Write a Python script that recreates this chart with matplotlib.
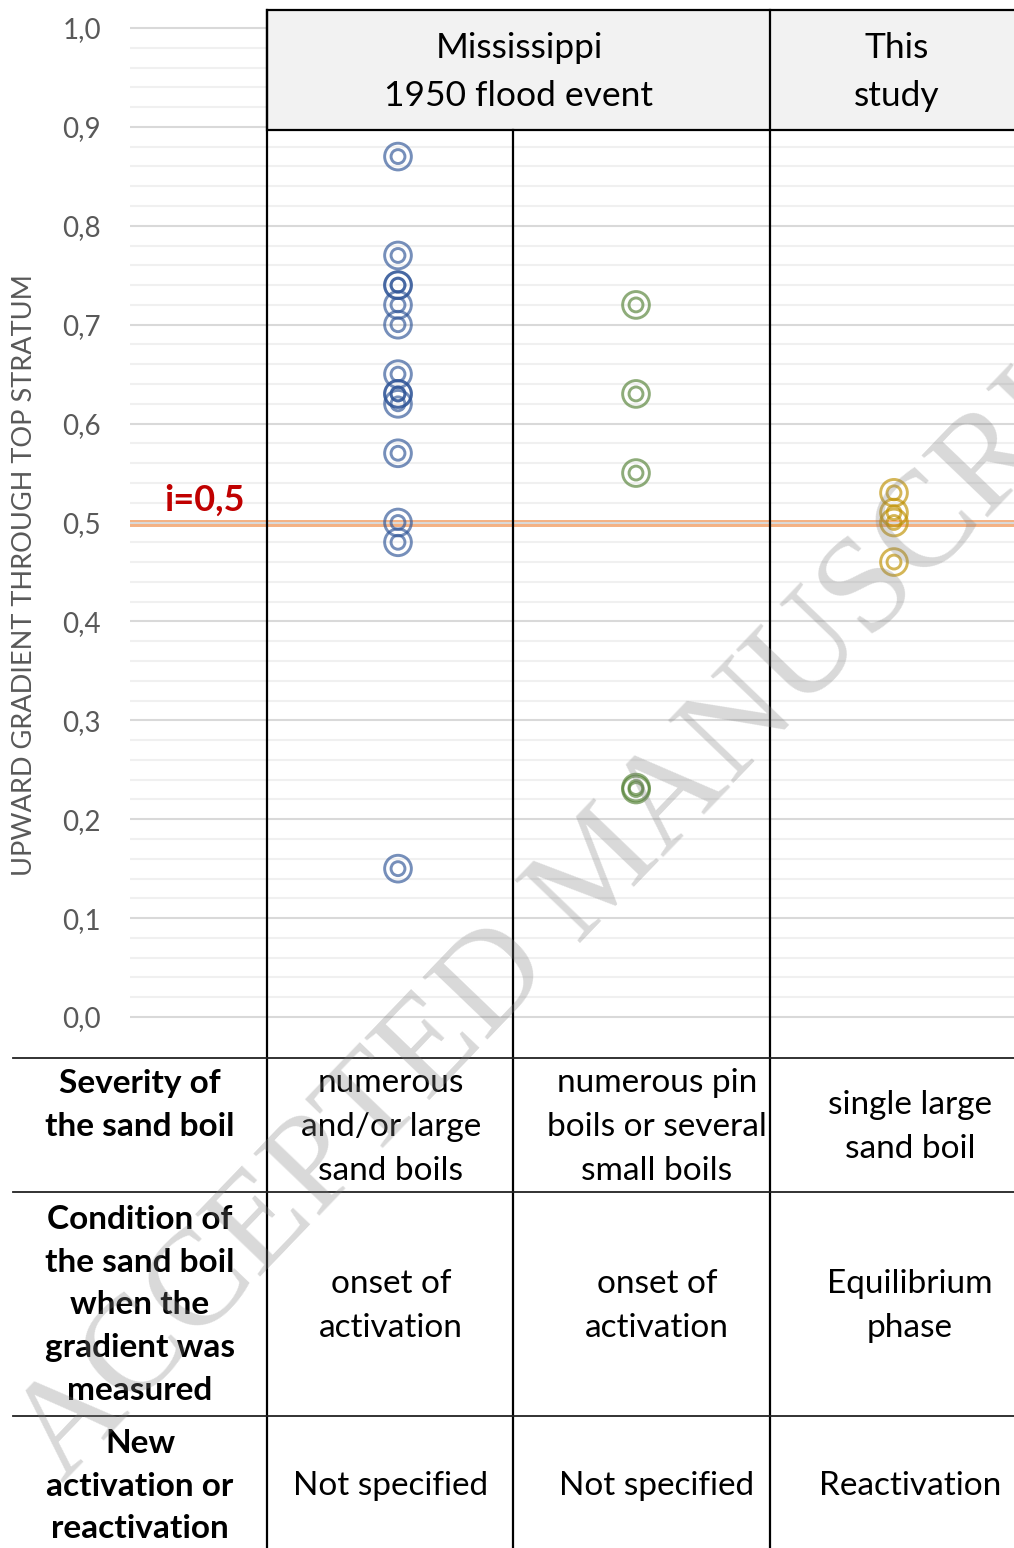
import numpy as np
import matplotlib
matplotlib.use("Agg")
import matplotlib.pyplot as plt
from matplotlib.patches import Rectangle

plt.rcParams['font.family'] = ['Lato', 'DejaVu Sans']

# ---------------- data ----------------
mississippi_numerous = [0.87, 0.77, 0.74, 0.74, 0.72, 0.70, 0.65, 0.63, 0.63,
                        0.62, 0.57, 0.50, 0.48, 0.15]
mississippi_pin = [0.72, 0.63, 0.55, 0.23, 0.232]
this_study = [0.53, 0.51, 0.50, 0.46]
threshold = 0.5
threshold_label = "i=0,5"
y_label = "UPWARD GRADIENT THROUGH TOP STRATUM"
y_ticks = [0.0, 0.1, 0.2, 0.3, 0.4, 0.5, 0.6, 0.7, 0.8, 0.9, 1.0]
y_tick_labels = ["0,0", "0,1", "0,2", "0,3", "0,4", "0,5", "0,6", "0,7", "0,8", "0,9", "1,0"]
header_groups = ["Mississippi\n1950 flood event", "This\nstudy"]
row_labels = ["Severity of\nthe sand boil",
              "Condition of\nthe sand boil\nwhen the\ngradient was\nmeasured",
              "New\nactivation or\nreactivation"]
table_cells = [
    ["numerous\nand/or large\nsand boils", "numerous pin\nboils or several\nsmall boils", "single large\nsand boil"],
    ["onset of\nactivation", "onset of\nactivation", "Equilibrium\nphase"],
    ["Not specified", "Not specified", "Reactivation"],
]
watermark = "ACCEPTED MANUSCRIPT"

series = [mississippi_numerous, mississippi_pin, this_study]
colors = ['#2f5597', '#548235', '#bf9000']

# ---------------- layout (pixels) ----------------
W, H = 1014, 1548
fig = plt.figure(figsize=(W / 100, H / 100), dpi=100, facecolor='white')

plot_left, plot_right = 130, 1014
plot_top, plot_bottom = 10, 1058
y0_px, y1_px = 1017, 28
per_px = 1.0 / (y0_px - y1_px)
cat_x = [398, 636, 894]

ax = fig.add_axes([plot_left / W, 1 - plot_bottom / H,
                   (plot_right - plot_left) / W, (plot_bottom - plot_top) / H])
ax.set_xlim(plot_left, plot_right)
ax.set_ylim(0 - (plot_bottom - y0_px) * per_px, 1 + (y1_px - plot_top) * per_px)
for s in ax.spines.values():
    s.set_visible(False)
ax.set_xticks([])
ax.set_yticks(y_ticks)
ax.set_yticklabels(y_tick_labels)
minor = [v for v in np.round(np.arange(0, 1.0001, 0.02), 2) if round(v * 10, 6) % 1 != 0]
ax.set_yticks(minor, minor=True)
ax.tick_params(axis='y', which='both', length=0, pad=21, labelsize=20, labelcolor='#595959')
ax.yaxis.grid(True, which='major', color='#d9d9d9', lw=1.5)
ax.yaxis.grid(True, which='minor', color='#f0f0f0', lw=1.5)
ax.set_axisbelow(True)

ax.axhline(threshold, color='#f4b183', lw=5, zorder=0.4)

for xs, vals, c in zip(cat_x, series, colors):
    xv = [xs] * len(vals)
    ax.scatter(xv, vals, s=370, facecolors='none', edgecolors=c, linewidths=2.1, alpha=0.66, zorder=3)
    ax.scatter(xv, vals, s=100, facecolors='none', edgecolors=c, linewidths=2.1, alpha=0.66, zorder=3)

# ---------------- overlay (table, header, watermark) ----------------
ov = fig.add_axes([0, 0, 1, 1])
ov.set_xlim(0, W)
ov.set_ylim(H, 0)
ov.axis('off')
ov.patch.set_alpha(0)

# header box
ov.add_patch(Rectangle((267, 10), 800, 120, facecolor='#f2f2f2', edgecolor='black', lw=1.6, zorder=2))
ov.plot([770, 770], [10, H], color='black', lw=1.6, zorder=3)
ov.plot([267, 267], [10, H], color='black', lw=1.6, zorder=3)
ov.plot([513, 513], [130, H], color='black', lw=1.6, zorder=3)
for yl in [1058, 1192, 1416]:
    ov.plot([13, W], [yl, yl], color='#222222', lw=1.3, zorder=3)

ov.text(519, 72, header_groups[0], ha='center', va='center', fontsize=25.5, color='black',
        linespacing=1.64, zorder=4)
ov.text(897, 72, header_groups[1], ha='center', va='center', fontsize=25.5, color='black',
        linespacing=1.64, zorder=4)

# y label
ov.text(25, 575, y_label, rotation=90, ha='center', va='center', fontsize=19.5, color='#595959')
# threshold label
ov.text(204, 500, threshold_label, ha='center', va='center', fontsize=26, fontweight='bold',
        color='#c00000')

row_centers = [1105, 1305, 1486]
cell_centers = [1127, 1306, 1486]
col_x = [391, 657, 910]
for r, lab in enumerate(row_labels):
    cy = row_centers[r]
    ov.text(140, cy, lab, ha='center', va='center', fontsize=24, fontweight='bold',
            linespacing=1.57, zorder=4)
    for c, txt in enumerate(table_cells[r]):
        ov.text(col_x[c], cell_centers[r], txt, ha='center', va='center', fontsize=24,
                linespacing=1.57, zorder=4)

# watermark
ov.text(62, 1483, watermark, rotation=46.2, rotation_mode='anchor', ha='left', va='baseline',
        fontsize=99, family=['Liberation Serif', 'DejaVu Serif'], color='#808080', alpha=0.30,
        zorder=10)

fig.savefig('out.png', dpi=100, facecolor='white')
